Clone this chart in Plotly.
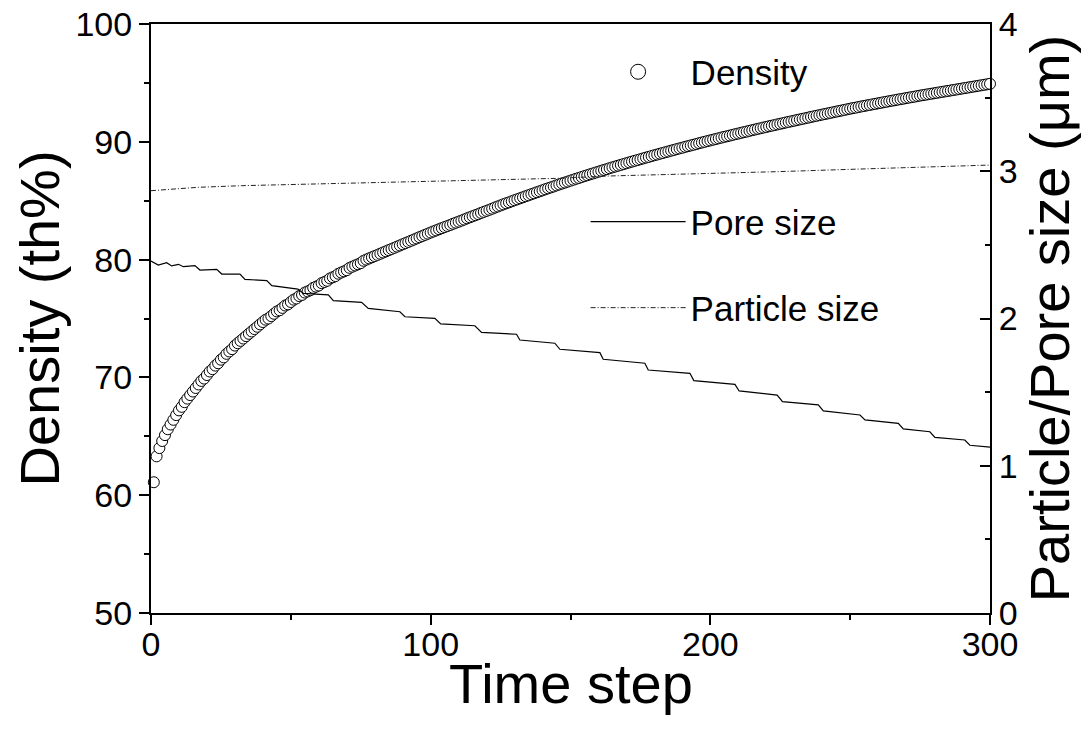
import plotly.graph_objects as go

# ---------------- data ----------------
time_steps = list(range(1, 301))

density = [
    61.1, 63.3, 64.0, 64.6, 65.1, 65.6, 66.0, 66.4, 66.8, 67.2,
    67.5, 67.9, 68.2, 68.5, 68.8, 69.1, 69.4, 69.7, 69.9, 70.2,
    70.5, 70.7, 71.0, 71.2, 71.5, 71.7, 72.0, 72.2, 72.4, 72.7,
    72.9, 73.1, 73.3, 73.5, 73.7, 73.9, 74.1, 74.3, 74.5, 74.7,
    74.9, 75.0, 75.2, 75.4, 75.6, 75.7, 75.9, 76.1, 76.2, 76.4,
    76.6, 76.7, 76.9, 77.0, 77.2, 77.3, 77.4, 77.6, 77.7, 77.8,
    78.0, 78.1, 78.2, 78.4, 78.5, 78.6, 78.8, 78.9, 79.0, 79.1,
    79.3, 79.4, 79.5, 79.6, 79.7, 79.9, 80.0, 80.1, 80.2, 80.3,
    80.4, 80.5, 80.6, 80.7, 80.8, 80.9, 81.0, 81.1, 81.2, 81.3,
    81.4, 81.5, 81.6, 81.7, 81.8, 81.9, 82.0, 82.1, 82.2, 82.3,
    82.39, 82.48, 82.58, 82.67, 82.76, 82.85, 82.94, 83.04, 83.13, 83.22,
    83.31, 83.40, 83.50, 83.59, 83.68, 83.77, 83.86, 83.96, 84.05, 84.14,
    84.23, 84.32, 84.42, 84.51, 84.60, 84.69, 84.78, 84.86, 84.95, 85.04,
    85.12, 85.21, 85.29, 85.38, 85.46, 85.55, 85.63, 85.72, 85.80, 85.88,
    85.97, 86.05, 86.13, 86.21, 86.30, 86.38, 86.46, 86.54, 86.62, 86.70,
    86.78, 86.86, 86.93, 87.01, 87.09, 87.16, 87.24, 87.31, 87.39, 87.46,
    87.54, 87.61, 87.68, 87.76, 87.83, 87.90, 87.97, 88.04, 88.11, 88.18,
    88.25, 88.32, 88.39, 88.45, 88.52, 88.59, 88.66, 88.72, 88.79, 88.86,
    88.92, 88.99, 89.05, 89.12, 89.18, 89.25, 89.31, 89.38, 89.44, 89.50,
    89.57, 89.63, 89.69, 89.75, 89.81, 89.88, 89.94, 90.00, 90.06, 90.12,
    90.18, 90.24, 90.30, 90.36, 90.42, 90.47, 90.53, 90.59, 90.65, 90.70,
    90.76, 90.82, 90.87, 90.93, 90.99, 91.04, 91.10, 91.15, 91.21, 91.26,
    91.32, 91.37, 91.42, 91.48, 91.53, 91.58, 91.64, 91.69, 91.74, 91.79,
    91.85, 91.90, 91.95, 92.00, 92.05, 92.11, 92.16, 92.21, 92.26, 92.31,
    92.36, 92.41, 92.46, 92.51, 92.56, 92.61, 92.66, 92.71, 92.76, 92.81,
    92.86, 92.90, 92.95, 93.00, 93.04, 93.09, 93.13, 93.18, 93.22, 93.27,
    93.31, 93.36, 93.40, 93.45, 93.49, 93.53, 93.58, 93.62, 93.66, 93.71,
    93.75, 93.79, 93.83, 93.88, 93.92, 93.96, 94.00, 94.04, 94.08, 94.12,
    94.16, 94.20, 94.24, 94.28, 94.32, 94.36, 94.40, 94.44, 94.48, 94.52,
    94.56, 94.60, 94.64, 94.68, 94.72, 94.76, 94.80, 94.84, 94.88, 94.92,
]

pore_t = [0, 2.6, 5.6, 7.4, 9.8, 11.6, 15.7, 17.5, 23.5, 25.3, 31.8, 33.6,
          41.4, 43.2, 52.5, 54.5, 63.4, 65.2, 75.3, 77.7, 89.0, 90.8, 101.5,
          103.6, 115.8, 118.2, 130.7, 131.9, 144.4, 146.2, 160.5, 161.7,
          176.6, 177.8, 192.7, 194.1, 208.8, 210.3, 223.9, 225.8, 238.6,
          240.4, 253.5, 255.3, 267.2, 269.0, 278.5, 280.3, 291.0, 292.8, 300]
pore_size = [2.390, 2.363, 2.379, 2.357, 2.368, 2.352, 2.359, 2.329, 2.334,
             2.302, 2.302, 2.266, 2.257, 2.223, 2.200, 2.171, 2.160, 2.121,
             2.110, 2.069, 2.046, 2.012, 2.001, 1.963, 1.951, 1.906, 1.893,
             1.854, 1.832, 1.791, 1.768, 1.723, 1.696, 1.650, 1.628, 1.578,
             1.553, 1.508, 1.480, 1.435, 1.413, 1.372, 1.345, 1.311, 1.288,
             1.250, 1.231, 1.193, 1.175, 1.139, 1.127]

particle_t = [0, 9.8, 16.9, 32.4, 51.5, 75.3, 89.6, 102.7, 129.0, 145.6,
              164.1, 193.9, 223.7, 253.5, 277.3, 300]
particle_size = [2.868, 2.880, 2.891, 2.902, 2.911, 2.922, 2.929, 2.936,
                 2.945, 2.952, 2.968, 2.981, 2.997, 3.015, 3.031, 3.042]

x_ticks = [0, 100, 200, 300]
y_ticks = [50, 60, 70, 80, 90, 100]
y2_ticks = [0, 1, 2, 3, 4]

FONT = "Liberation Sans, Arial, sans-serif"
TICK_SIZE = 34
TITLE_SIZE = 56
LEGEND_SIZE = 35

fig = go.Figure()

fig.add_trace(go.Scatter(
    x=time_steps, y=density, mode="markers", name="Density",
    marker=dict(symbol="circle", size=11, color="white",
                line=dict(color="black", width=1)),
    cliponaxis=False, showlegend=False,
))
# legend entry only (no data drawn), with the larger legend symbol
fig.add_trace(go.Scatter(
    x=[None], y=[None], mode="markers", name="Density",
    marker=dict(symbol="circle", size=15, color="white",
                line=dict(color="black", width=1)),
    legend="legend",
))
fig.add_trace(go.Scatter(
    x=pore_t, y=pore_size, mode="lines", name="Pore size", yaxis="y2",
    line=dict(color="black", width=1.2), legend="legend2",
))
fig.add_trace(go.Scatter(
    x=particle_t, y=particle_size, mode="lines", name="Particle size",
    yaxis="y2", line=dict(color="#222222", width=1, dash="5px,2px,1px,2px"),
    legend="legend3",
))

axis_common = dict(showgrid=False, zeroline=False, showline=True,
                   automargin=False, ticklabeloverflow="allow",
                   linecolor="black", linewidth=2, tickcolor="black",
                   tickwidth=2,
                   tickfont=dict(family=FONT, size=TICK_SIZE, color="black"))

legend_common = dict(xanchor="left", yanchor="middle",
                     bgcolor="rgba(0,0,0,0)", itemwidth=95,
                     font=dict(family=FONT, size=LEGEND_SIZE, color="black"))

fig.update_layout(
    width=1082, height=734,
    margin=dict(l=143, r=100, t=16, b=129, autoexpand=False),
    paper_bgcolor="white", plot_bgcolor="white",
    font=dict(family=FONT, color="black"),
    xaxis=dict(range=[0, 300], tickvals=x_ticks, ticks="outside", ticklen=10,
               mirror=True, ticklabelstandoff=-10,
               minor=dict(dtick=50, ticks="outside", ticklen=5, tickwidth=2,
                          tickcolor="black"),
               **axis_common),
    yaxis=dict(range=[50, 100], tickvals=y_ticks, ticks="outside", ticklen=10,
               minor=dict(dtick=5, ticks="outside", ticklen=5, tickwidth=2,
                          tickcolor="black"),
               title=dict(text="Density (th%)",
                          font=dict(family=FONT, size=TITLE_SIZE, color="black"),
                          standoff=22),
               **axis_common),
    yaxis2=dict(range=[0, 4], tickvals=y2_ticks, ticks="inside", ticklen=10,
                overlaying="y", side="right",
                minor=dict(dtick=0.5, ticks="inside", ticklen=5, tickwidth=2,
                           tickcolor="black"),
                title=dict(text="Particle/Pore size (μm)",
                           font=dict(family=FONT, size=TITLE_SIZE, color="black"),
                           standoff=13),
                **axis_common),
    annotations=[dict(text="Time step", xref="paper", yref="paper",
                      x=0.5, y=0, xanchor="center", yanchor="middle",
                      yshift=-70, showarrow=False,
                      font=dict(family=FONT, size=TITLE_SIZE, color="black"))],
    legend=dict(x=0.518, y=0.9185, **legend_common),
    legend2=dict(x=0.518, y=0.664, **legend_common),
    legend3=dict(x=0.518, y=0.518, **legend_common),
    showlegend=True,
)

fig.write_html("out.html")
